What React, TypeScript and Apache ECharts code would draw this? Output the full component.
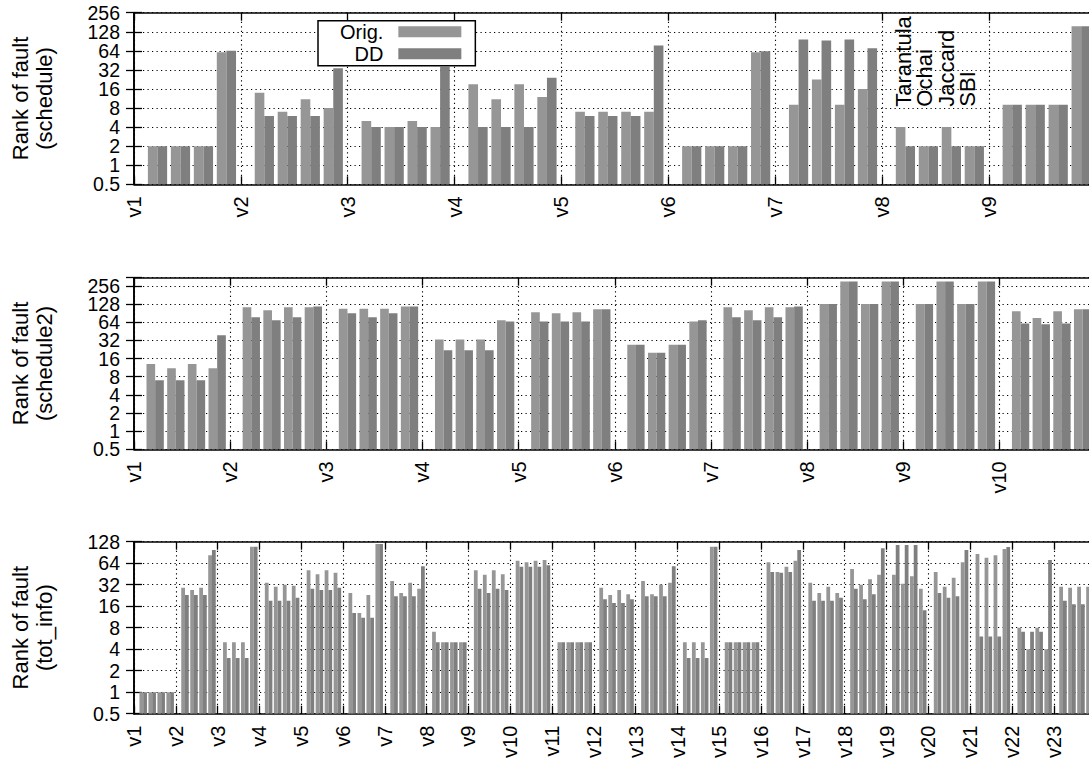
import { useEffect, useRef } from 'react';
import * as echarts from 'echarts';

// ---------------- data ----------------
const techniques = ['Tarantula', 'Ochai', 'Jaccard', 'SBI'];
const seriesNames = ['Orig.', 'DD'];
const yTickValues = [0.5, 1, 2, 4, 8, 16, 32, 64, 128, 256];

const scheduleVersions = ['v1', 'v2', 'v3', 'v4', 'v5', 'v6', 'v7', 'v8', 'v9'];
// each row: one version, values for Tarantula, Ochai, Jaccard, SBI
const scheduleOrig = [
  [2, 2, 2, 61],
  [14, 7, 11, 8],
  [5, 4, 5, 4],
  [19, 11, 19, 12],
  [7, 7, 7, 7],
  [2, 2, 2, 61],
  [9, 22.5, 9, 16],
  [4, 2, 4, 2],
  [9, 9, 9, 157],
];
const scheduleDD = [
  [2, 2, 2, 64],
  [6, 6, 6, 34],
  [4, 4, 4, 36],
  [4, 4, 4, 24],
  [6, 6, 6, 78],
  [2, 2, 2, 63],
  [97, 93, 97, 70],
  [2, 2, 2, 2],
  [9, 9, 9, 157],
];

const schedule2Versions = ['v1', 'v2', 'v3', 'v4', 'v5', 'v6', 'v7', 'v8', 'v9', 'v10'];
const schedule2Orig = [
  [13, 11, 13, 11],
  [113, 101, 113, 113],
  [107, 107, 107, 117],
  [33, 33, 33, 69],
  [94, 90, 94, 105],
  [27, 20, 27, 66],
  [113, 101, 113, 113],
  [128, 304, 128, 304],
  [128, 304, 128, 304],
  [97, 75, 97, 105],
];
const schedule2DD = [
  [7, 7, 7, 39],
  [77, 69, 77, 117],
  [90, 77, 90, 117],
  [22, 22, 22, 66],
  [66, 66, 66, 105],
  [27, 20, 27, 69],
  [77, 69, 77, 117],
  [128, 304, 128, 304],
  [128, 304, 128, 304],
  [61, 59, 61, 105],
];

const totInfoVersions = [
  'v1', 'v2', 'v3', 'v4', 'v5', 'v6', 'v7', 'v8', 'v9', 'v10', 'v11', 'v12',
  'v13', 'v14', 'v15', 'v16', 'v17', 'v18', 'v19', 'v20', 'v21', 'v22', 'v23',
];
const totInfoOrig = [
  [1, 1, 1, 1],
  [29, 27, 29, 83],
  [5, 5, 5, 109],
  [34, 30, 32, 31],
  [51, 45, 51, 47],
  [24.5, 12.8, 23, 119],
  [36, 24.5, 34, 28],
  [7, 5, 5, 5],
  [51, 44, 51, 45],
  [69, 66, 69, 71],
  [5, 5, 5, 5],
  [29, 23, 27, 23.6],
  [36, 23.6, 32, 34],
  [5, 5, 5, 109],
  [5, 5, 5, 5],
  [66, 48, 57, 69],
  [34, 24.5, 30, 24.5],
  [53, 32, 38, 44],
  [44, 33, 42, 28],
  [48, 30, 40, 66],
  [86, 76, 83, 101],
  [8, 4, 8, 4],
  [30, 29, 30, 30],
];
const totInfoDD = [
  [1, 1, 1, 1],
  [23, 23, 23, 98],
  [3, 3, 3, 109],
  [19, 19, 19, 21],
  [28, 27, 27, 29],
  [12.8, 11, 11, 119],
  [22, 22, 22, 58],
  [5, 5, 5, 5],
  [28, 24.5, 28, 27],
  [57, 57, 57, 60],
  [5, 5, 5, 5],
  [20, 17.7, 17.7, 20],
  [22, 22, 22, 58],
  [3, 3, 3, 109],
  [5, 5, 5, 5],
  [48, 47, 48, 98],
  [19, 19, 19, 21],
  [28, 20, 23.6, 104],
  [115, 115, 115, 14],
  [24.5, 21, 22, 98],
  [6, 6, 6, 108],
  [7, 7, 7, 71],
  [19, 17, 17, 28],
];

const yLabels = ['Rank of fault\n(schedule)', 'Rank of fault\n(schedule2)', 'Rank of fault\n(tot_info)'];
const yMaxima = [256, 350, 128];
const annotationVersion = 7; // techniques annotated above the v8 group of schedule
const annotationValue = 8.4;

// ---------------- presentation ----------------
const FONT = "'Liberation Sans', Arial, Helvetica, sans-serif";
const ORIG_COLOR = '#969696';
const DD_COLOR = '#7f7f7f';
const Y_MIN = 0.5;
const CLUSTER_OFFSETS = [0.22, 0.435, 0.65, 0.865];
const BAR_W = 0.09;
const GRID_LEFT = 131.7;
const GRID_WIDTH = 963.9;
const GRID_TOPS = [12.7, 277.7, 541.7];
const GRID_HEIGHTS = [171.6, 171.6, 172];

const panels = [
  { versions: scheduleVersions, orig: scheduleOrig, dd: scheduleDD },
  { versions: schedule2Versions, orig: schedule2Orig, dd: schedule2DD },
  { versions: totInfoVersions, orig: totInfoOrig, dd: totInfoDD },
];

function buildOption() {
  const grid: any[] = [];
  const xAxis: any[] = [];
  const yAxis: any[] = [];
  const series: any[] = [];
  const lineStyle = { color: '#000', width: 1.6 };
  const tickStyle = { color: '#000', width: 1.3 };
  const gridLine = { show: true, lineStyle: { color: '#000', width: 1.1, type: [1.2, 3.3] } };

  panels.forEach((p, i) => {
    const n = p.versions.length;
    grid.push({ left: GRID_LEFT, top: GRID_TOPS[i], width: GRID_WIDTH, height: GRID_HEIGHTS[i], containLabel: false });
    xAxis.push({
      type: 'value', gridIndex: i, position: 'bottom', min: 0, max: n, interval: 1,
      axisLine: { show: true, lineStyle },
      axisTick: { show: true, inside: true, length: 8, lineStyle: tickStyle },
      axisLabel: {
        show: true, rotate: 90, margin: 12, fontSize: 20, fontFamily: FONT, color: '#000',
        showMinLabel: true, showMaxLabel: false, lineHeight: 20,
        formatter: (v: number) => (v < n ? p.versions[Math.round(v)] : ''),
      },
      splitLine: gridLine,
    });
    xAxis.push({
      type: 'value', gridIndex: i, position: 'top', min: 0, max: n, interval: 1,
      axisLine: { show: true, lineStyle },
      axisTick: { show: true, inside: true, length: 8, lineStyle: tickStyle },
      axisLabel: { show: false },
      splitLine: { show: false },
    });
    yAxis.push({
      type: 'log', logBase: 2, gridIndex: i, position: 'left', min: Y_MIN, max: yMaxima[i],
      name: yLabels[i], nameLocation: 'middle', nameGap: 78, nameRotate: 90,
      nameTextStyle: { fontSize: 22, lineHeight: 24, fontFamily: FONT, color: '#000', align: 'center' },
      axisLine: { show: true, lineStyle },
      axisTick: { show: true, inside: true, length: 8, lineStyle: tickStyle },
      axisLabel: { show: false },
      splitLine: gridLine,
    });
    yAxis.push({
      type: 'log', logBase: 2, gridIndex: i, position: 'right', min: Y_MIN, max: yMaxima[i],
      axisLine: { show: true, lineStyle },
      axisTick: { show: true, inside: true, length: 8, lineStyle: tickStyle },
      axisLabel: { show: false },
      splitLine: { show: false },
    });

    [p.orig, p.dd].forEach((rows, s) => {
      const color = s === 0 ? ORIG_COLOR : DD_COLOR;
      const data: number[][] = [];
      rows.forEach((row, v) => {
        row.forEach((val, k) => {
          data.push([v + CLUSTER_OFFSETS[k] + (s === 0 ? -BAR_W / 2 : BAR_W / 2), val]);
        });
      });
      series.push({
        type: 'custom', name: seriesNames[s], xAxisIndex: 2 * i, yAxisIndex: 2 * i,
        itemStyle: { color }, encode: { x: 0, y: 1 }, clip: true, data,
        renderItem: (_params: any, api: any) => {
          const x = api.value(0) as number;
          const y = api.value(1) as number;
          const top = api.coord([x - BAR_W / 2, y]);
          const base = api.coord([x + BAR_W / 2, Y_MIN]);
          return {
            type: 'rect',
            shape: { x: top[0], y: top[1], width: base[0] - top[0], height: base[1] - top[1] },
            style: { fill: color },
          };
        },
      });
    });

    // y tick labels (powers of two), placed through the panel's log axis
    const ticks = yTickValues.filter((t) => t <= yMaxima[i]);
    series.push({
      type: 'custom', name: `yticks${i}`, xAxisIndex: 2 * i, yAxisIndex: 2 * i, silent: true, z: 5,
      encode: { x: 0, y: 1 },
      data: ticks.map((t) => [0, t]),
      renderItem: (params: any, api: any) => {
        const pt = api.coord([0, api.value(1)]);
        return {
          type: 'text', x: pt[0] - 14, y: pt[1],
          style: {
            text: String(ticks[params.dataIndex]), fill: '#000', fontSize: 19.5, fontFamily: FONT,
            align: 'right', verticalAlign: 'middle',
          },
        };
      },
    });
  });

  // technique names written upward above the v8 group of the first panel
  series.push({
    type: 'custom', name: 'techniques', xAxisIndex: 0, yAxisIndex: 0, silent: true, z: 10,
    encode: { x: 0, y: 1 },
    data: techniques.map((t, k) => ({ name: t, value: [annotationVersion + 0.2 + 0.2 * k, annotationValue] })),
    renderItem: (params: any, api: any) => {
      const pt = api.coord([api.value(0), api.value(1)]);
      return {
        type: 'text', x: pt[0], y: pt[1], rotation: Math.PI / 2,
        style: {
          text: techniques[params.dataIndex], fill: '#000', fontSize: 22, fontFamily: FONT,
          align: 'left', verticalAlign: 'middle',
        },
      };
    },
  });

  return {
    animation: false,
    backgroundColor: '#fff',
    textStyle: { fontFamily: FONT },
    legend: {
      data: seriesNames.map((nm) => ({ name: nm, icon: 'rect' })),
      orient: 'vertical', left: 318, top: 20.7, align: 'right',
      itemWidth: 63, itemHeight: 11, itemGap: 2,
      padding: [1, 14, 2, 22], borderColor: '#000', borderWidth: 1.5, backgroundColor: '#fff',
      textStyle: { fontSize: 20, fontFamily: FONT, color: '#000', lineHeight: 20, padding: [0, 10, 0, 0] },
      selectedMode: false,
    },
    grid, xAxis, yAxis, series,
  };
}

export default function App() {
  const ref = useRef<HTMLDivElement>(null);
  useEffect(() => {
    const chart = echarts.init(ref.current!, null, { renderer: 'svg' });
    chart.setOption(buildOption() as any);
    return () => chart.dispose();
  }, []);
  return (
    <div style={{ position: 'fixed', left: 0, top: 0, width: 1089, height: 763, overflow: 'hidden', background: '#fff' }}>
      <div ref={ref} style={{ width: 1110, height: 763 }} />
    </div>
  );
}
